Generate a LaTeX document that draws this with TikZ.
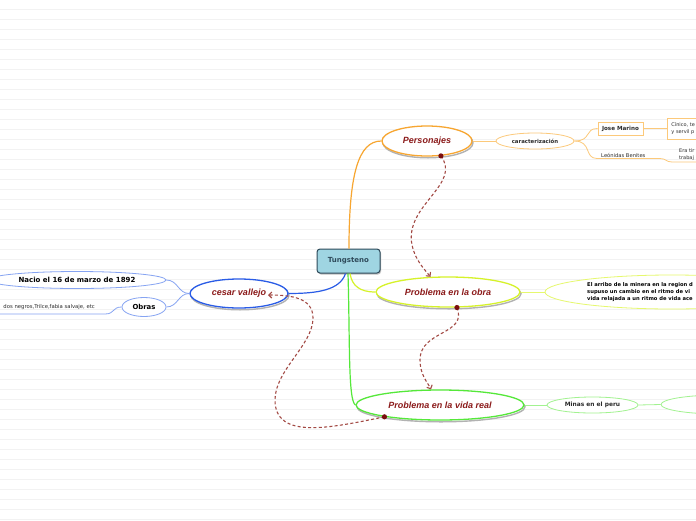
\documentclass[tikz,border=0pt]{standalone}
\usepackage{fontspec}
\setmainfont{Liberation Sans}
\newfontfamily\dvs{DejaVu Sans}
\usetikzlibrary{shapes.geometric,arrows.meta,calc}
\definecolor{bgline}{HTML}{F2F2F2}
\definecolor{orangeM}{HTML}{F7A631}
\definecolor{orangeL}{HTML}{FCC97A}
\definecolor{yellowM}{HTML}{D6F22A}
\definecolor{yellowL}{HTML}{E6F86E}
\definecolor{greenM}{HTML}{55E83A}
\definecolor{greenL}{HTML}{A2F290}
\definecolor{blueM}{HTML}{2A5CE6}
\definecolor{blueL}{HTML}{86A4F2}
\definecolor{redtxt}{HTML}{8B1A1A}
\definecolor{relcol}{HTML}{A34A45}
\definecolor{dotcol}{HTML}{7A0E0E}
\definecolor{tungfill}{HTML}{9FD5E2}
\definecolor{tungbord}{HTML}{2E4A5A}
\definecolor{darktxt}{HTML}{2B2B2B}
\tikzset{
  shadowed/.style={preaction={draw=black!30, line width=1.4pt, transform canvas={xshift=1pt,yshift=-1.8pt}}},
  topic/.style={ellipse, inner sep=0pt, fill=white, line width=1.3pt, shadowed,
    font=\bfseries\itshape\fontsize{9}{10}\selectfont, text=redtxt},
  subel/.style={ellipse, inner sep=0pt, fill=white, line width=0.8pt,
    font=\dvs\bfseries\fontsize{5.6}{6.5}\selectfont, text=darktxt},
  subrect/.style={rectangle, inner sep=0pt, fill=white, line width=0.8pt,
    font=\dvs\bfseries\fontsize{5.6}{6.5}\selectfont, text=darktxt},
  plain/.style={inner sep=0pt, font=\dvs\fontsize{5.2}{6.6}\selectfont, text=darktxt, align=left},
  mainlink/.style={line width=1.2pt},
  sublink/.style={line width=0.8pt},
  rel/.style={draw=relcol, line width=1.1pt, dash pattern=on 3pt off 2.3pt, -{Straight Barb[length=3pt,width=6pt]}},
}
\begin{document}
\begin{tikzpicture}[x=1pt,y=-1pt]
\useasboundingbox (0,0) rectangle (696,520);
\fill[white] (0,0) rectangle (696,520);
\foreach \i in {0,...,51} \draw[bgline, line width=0.8pt] (0,9.5+10*\i) -- (696,9.5+10*\i);

% central
\node[rectangle, rounded corners=3pt, fill=tungfill, draw=tungbord, line width=1pt,
  minimum width=63pt, minimum height=24pt, inner sep=0pt,
  preaction={fill=black!25, transform canvas={xshift=1pt,yshift=-1.5pt}},
  font=\dvs\bfseries\fontsize{7}{8}\selectfont, text=tungbord] (tung) at (348.5,261) {Tungsteno};

% main topics
\node[topic, draw=orangeM, minimum width=90pt, minimum height=30pt] (pers) at (427,141) {Personajes};
\node[topic, draw=yellowM, minimum width=144pt, minimum height=30pt] (obra) at (448,292) {Problema en la obra};
\node[topic, draw=greenM, minimum width=168pt, minimum height=30pt] (vida) at (440,405) {Problema en la vida real};
\node[topic, draw=blueM, minimum width=98pt, minimum height=29pt] (cesar) at (239,293.5) {cesar vallejo};

% Personajes branch
\node[subel, draw=orangeL, minimum width=78pt, minimum height=16pt, font=\dvs\bfseries\fontsize{5.4}{6.5}\selectfont] (carac) at (535,141) {caracterización};
\node[subrect, draw=orangeL, minimum width=45pt, minimum height=13pt] (jose) at (620.5,128.5) {Jose Marino};
\node[subrect, draw=orangeL, minimum width=60pt, minimum height=21pt, anchor=west, text width=56pt, align=left,
  font=\dvs\fontsize{5}{6.6}\selectfont] (cinico) at (667,128.5) {\hspace*{2pt}Cínico, te\\\hspace*{2pt}y servil p};
\node[plain, anchor=west] (leon) at (601,155) {Leónidas Benites};
\node[plain, anchor=west, font=\dvs\fontsize{5}{6.6}\selectfont] (eratir) at (679,154.5) {Era tir\\trabaj};
\coordinate (leonL) at (597,158.5);
\coordinate (leonR) at (660,158.5);
\coordinate (eraL) at (672,162);
\coordinate (eraR) at (700,162);

% Obra branch
\node[ellipse, draw=yellowL, fill=white, line width=0.8pt, minimum width=254pt, minimum height=34pt, inner sep=0pt] (arribo) at (672,292) {};
\node[plain, anchor=west, font=\dvs\bfseries\fontsize{5.2}{7}\selectfont, text=black] (arribotxt) at (587,292) {El arribo de la minera en la region d\\supuso un cambio en el ritmo de vi\\vida relajada a un ritmo de vida ace};

% Vida branch
\node[subel, draw=greenL, minimum width=91pt, minimum height=16pt, font=\dvs\bfseries\fontsize{5.9}{7}\selectfont] (minas) at (592.5,405) {Minas en el peru};
\node[ellipse, draw=greenL, fill=white, line width=0.8pt, minimum width=118pt, minimum height=19pt, inner sep=0pt] (minasnext) at (720,404.5) {};

% Cesar branch
\node[subel, draw=blueL, minimum width=178pt, minimum height=17pt, font=\dvs\bfseries\fontsize{7}{8}\selectfont, text=black] (nacio) at (77,280) {Nacio el 16 de marzo de 1892};
\node[subel, draw=blueL, minimum width=44pt, minimum height=19pt, font=\dvs\bfseries\fontsize{6.9}{8}\selectfont, text=black] (obras) at (144,307) {Obras};
\node[plain, anchor=east, font=\dvs\fontsize{5.3}{6.5}\selectfont] (obrastxt) at (95,307.5) {dos negros,Trilce,fabia salvaje, etc};
\coordinate (obrasR) at (105,314);
\coordinate (obrasL) at (-2,314);

% main connectors
\draw[orangeM, mainlink] ([xshift=0.5pt]tung.north) .. controls (349,175) and (358,141) .. (pers.west);
\draw[yellowM, mainlink] ([xshift=1.5pt]tung.south) .. controls (352,286) and (360,292) .. (obra.west);
\draw[greenM, mainlink] ([xshift=-0.5pt]tung.south) .. controls (350,340) and (348,400) .. (vida.west);
\draw[blueM, mainlink] ([xshift=-3pt]tung.south) .. controls (340,290) and (318,293.5) .. (cesar.east);

% sub connectors
\draw[orangeL, sublink] (pers.east) -- (carac.west);
\draw[orangeL, sublink] (carac.east) .. controls (592,141) and (584,128.5) .. (jose.west);
\draw[orangeL, sublink] (carac.east) .. controls (592,141) and (584,158.5) .. (leonL) -- (leonR) .. controls (666,158.5) and (666,162) .. (eraL) -- (eraR);
\draw[orangeL, sublink] (jose.east) -- (cinico.west);
\draw[yellowL, sublink] (obra.east) -- (arribo.west);
\draw[greenL, sublink] (vida.east) -- (minas.west);
\draw[greenL, sublink] (minas.east) -- (minasnext.west);
\draw[blueL, sublink] (cesar.west) .. controls (178,293.5) and (178,280) .. (nacio.east);
\draw[blueL, sublink] (cesar.west) .. controls (178,293.5) and (178,307) .. (obras.east);
\draw[blueL, sublink] (obras.west) .. controls (112,307) and (115,314) .. (obrasR) -- (obrasL);

% relationships
\coordinate (cesarin) at ($(cesar.center)+(29,1.5)$);
\draw[rel] (pers.-47) .. controls (462,185) and (404,205) .. (412,245) .. controls (415,260) and (425,270) .. (obra.139);
\draw[rel] (obra.-60) .. controls (468,335) and (420,330) .. (420,360) .. controls (420,375) and (428,383) .. (vida.120);
\draw[rel] (vida.192) .. controls (330,428) and (275,440) .. (275,400) .. controls (275,370) and (313,345) .. (313,318) .. controls (313,298) and (292,295) .. (cesarin);
\fill[dotcol] (pers.-47) circle (2.6);
\fill[dotcol] (obra.-60) circle (2.6);
\fill[dotcol] (vida.192) circle (2.6);
\end{tikzpicture}
\end{document}
